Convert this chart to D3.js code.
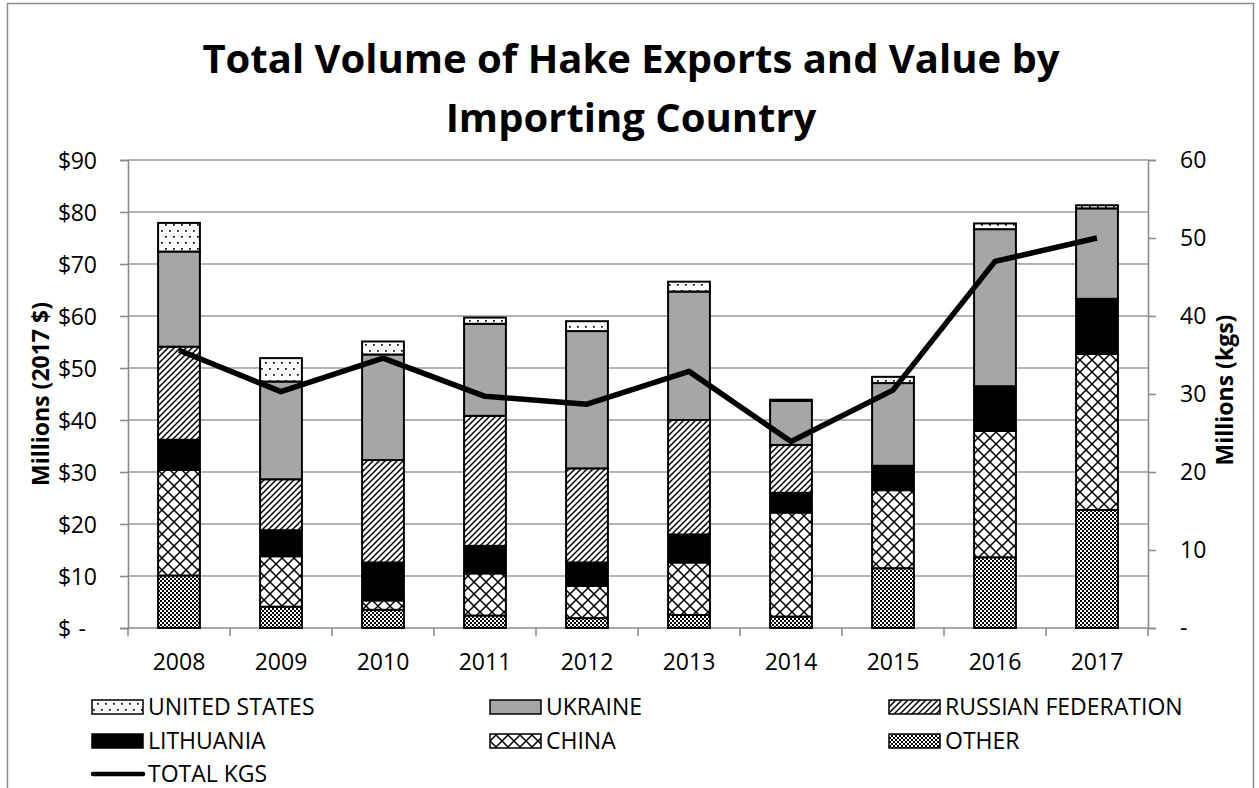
<!DOCTYPE html>
<html>
<head>
<meta charset="utf-8">
<script src="https://cdn.jsdelivr.net/npm/d3@7"></script>
<style>
  body { margin: 0; background: #fff; }
  text { font-family: "Open Sans", sans-serif; fill: #000; }
</style>
</head>
<body>
<div id="chart"></div>
<script>
// data (millions of 2017 $ / millions of kgs)
var years = [2008, 2009, 2010, 2011, 2012, 2013, 2014, 2015, 2016, 2017];
var other = [10.1, 4.1, 3.5, 2.4, 1.9, 2.5, 2.2, 11.5, 13.6, 22.7];
var china = [20.3, 9.7, 1.8, 8.1, 6.2, 10.1, 20.0, 15.0, 24.3, 30.0];
var lithuania = [5.8, 5.0, 7.3, 5.3, 4.5, 5.4, 3.8, 4.7, 8.6, 10.6];
var russia = [17.9, 9.8, 19.7, 25.0, 18.1, 22.0, 9.2, 0, 0, 0];
var ukraine = [18.3, 18.8, 20.3, 17.7, 26.4, 24.7, 8.5, 15.9, 30.2, 17.4];
var unitedStates = [5.5, 4.5, 2.5, 1.2, 1.9, 1.9, 0.2, 1.2, 1.1, 0.6];
var totalKgs = [35.6, 30.3, 34.6, 29.7, 28.7, 32.9, 23.9, 30.5, 47.0, 50.0];

var leftTicks = [0, 10, 20, 30, 40, 50, 60, 70, 80, 90];
var rightTicks = [0, 10, 20, 30, 40, 50, 60];

// stack order, bottom to top
var keys = ["other", "china", "lithuania", "russia", "ukraine", "us"];
var labels = {
    us: "UNITED STATES", ukraine: "UKRAINE", russia: "RUSSIAN FEDERATION",
    lithuania: "LITHUANIA", china: "CHINA", other: "OTHER"
};
var fills = {
    us: "url(#dots)", ukraine: "#a6a6a6", russia: "url(#diag)",
    lithuania: "#000", china: "url(#cross)", other: "url(#checker)"
};

var rows = years.map(function(y, i) {
    return {
        year: y, other: other[i], china: china[i], lithuania: lithuania[i],
        russia: russia[i], ukraine: ukraine[i], us: unitedStates[i]
    };
});

var svgWidth = 1259, svgHeight = 788;
// plot area edges (window.top is reserved, so prefixed names)
var plotLeft = 128, plotRight = 1148, plotTop = 160, plotBottom = 628;

var svg = d3.select("#chart").append("svg")
    .attr("width", svgWidth)
    .attr("height", svgHeight);

// fill patterns
var defs = svg.append("defs");

var dots = defs.append("pattern").attr("id", "dots")
    .attr("patternUnits", "userSpaceOnUse").attr("width", 8).attr("height", 12);
dots.append("rect").attr("width", 8).attr("height", 12).attr("fill", "#fff");
dots.append("rect").attr("x", 1).attr("y", 2).attr("width", 1.7).attr("height", 1.7).attr("fill", "#000");
dots.append("rect").attr("x", 5).attr("y", 8).attr("width", 1.7).attr("height", 1.7).attr("fill", "#000");

var diag = defs.append("pattern").attr("id", "diag")
    .attr("patternUnits", "userSpaceOnUse").attr("width", 6).attr("height", 6);
diag.append("rect").attr("width", 6).attr("height", 6).attr("fill", "#fff");
diag.append("path").attr("d", "M0,6 L6,0 M-1,1 L1,-1 M5,7 L7,5")
    .attr("stroke", "#000").attr("stroke-width", 1.5);

var cross = defs.append("pattern").attr("id", "cross")
    .attr("patternUnits", "userSpaceOnUse").attr("width", 12).attr("height", 12);
cross.append("rect").attr("width", 12).attr("height", 12).attr("fill", "#fff");
cross.append("path").attr("d", "M0,0 L12,12 M12,0 L0,12")
    .attr("stroke", "#000").attr("stroke-width", 1.5);

var checker = defs.append("pattern").attr("id", "checker")
    .attr("patternUnits", "userSpaceOnUse").attr("width", 4).attr("height", 4);
checker.append("rect").attr("width", 4).attr("height", 4).attr("fill", "#fff");
checker.append("rect").attr("width", 2).attr("height", 2).attr("fill", "#000");
checker.append("rect").attr("x", 2).attr("y", 2).attr("width", 2).attr("height", 2).attr("fill", "#000");

// outer chart border
svg.append("rect")
    .attr("x", 7.5).attr("y", 3.5)
    .attr("width", 1246).attr("height", 900)
    .attr("fill", "none").attr("stroke", "#8c8c8c").attr("stroke-width", 1.5);

// title
var title = svg.append("text")
    .attr("text-anchor", "middle")
    .style("font-size", "40px")
    .style("font-weight", "bold");
title.append("tspan").attr("x", 631).attr("y", 73).text("Total Volume of Hake Exports and Value by");
title.append("tspan").attr("x", 631).attr("y", 132).text("Importing Country");

// scales
var x = d3.scaleBand().domain(years).range([plotLeft, plotRight]);
var barW = x.bandwidth() * 0.41;
var yL = d3.scaleLinear().domain([0, 90]).range([plotBottom, plotTop]);
var yR = d3.scaleLinear().domain([0, 60]).range([plotBottom, plotTop]);

// gridlines
svg.append("g").selectAll("line")
    .data(leftTicks.filter(d => d > 0))
    .enter().append("line")
    .attr("x1", plotLeft).attr("x2", plotRight)
    .attr("y1", d => yL(d)).attr("y2", d => yL(d))
    .attr("stroke", "#9a9a9a").attr("stroke-width", 1.6);

// left axis
var leftAxis = svg.append("g")
    .attr("transform", `translate(${plotLeft},0)`)
    .call(d3.axisLeft(yL).tickValues(leftTicks).tickSize(8).tickFormat(""));
leftAxis.select(".domain").attr("stroke", "#8c8c8c").attr("stroke-width", 1.6);
leftAxis.selectAll(".tick line").attr("stroke", "#8c8c8c").attr("stroke-width", 1.6);
leftAxis.selectAll(".tick").each(function(d) {
    var t = d3.select(this);
    t.append("text").attr("x", -70).attr("dy", "0.35em")
        .attr("text-anchor", "start").style("font-size", "23px").text("$");
    t.append("text").attr("x", d ? -31 : -42).attr("dy", "0.35em")
        .attr("text-anchor", "end").style("font-size", "23px").text(d ? d : "-");
});

// right axis
var rightAxis = svg.append("g")
    .attr("transform", `translate(${plotRight},0)`)
    .call(d3.axisRight(yR).tickValues(rightTicks).tickSize(8).tickPadding(24)
        .tickFormat(d => d ? d : "-"));
rightAxis.select(".domain").attr("stroke", "#8c8c8c").attr("stroke-width", 1.6);
rightAxis.selectAll(".tick line").attr("stroke", "#8c8c8c").attr("stroke-width", 1.6);
rightAxis.selectAll(".tick text")
    .attr("fill", "#000")
    .style("font-size", "23px")
    .style("font-family", "'Open Sans', sans-serif");

// bottom axis: category boundaries get the tick marks
var xAxisG = svg.append("g");
xAxisG.append("line")
    .attr("x1", plotLeft).attr("x2", plotRight).attr("y1", plotBottom).attr("y2", plotBottom)
    .attr("stroke", "#8c8c8c").attr("stroke-width", 1.6);
xAxisG.selectAll(".bound")
    .data(years.concat(["end"]))
    .enter().append("line")
    .attr("class", "bound")
    .attr("x1", (d, i) => plotLeft + i * x.step()).attr("x2", (d, i) => plotLeft + i * x.step())
    .attr("y1", plotBottom).attr("y2", plotBottom + 8)
    .attr("stroke", "#8c8c8c").attr("stroke-width", 1.6);
xAxisG.selectAll(".yr")
    .data(years)
    .enter().append("text")
    .attr("class", "yr")
    .attr("x", d => x(d) + x.bandwidth() / 2)
    .attr("y", 670)
    .attr("text-anchor", "middle")
    .style("font-size", "23px")
    .text(d => d);

// axis titles
svg.append("text")
    .attr("transform", "translate(49,394) rotate(-90)")
    .attr("text-anchor", "middle")
    .style("font-size", "23px").style("font-weight", "bold")
    .text("Millions (2017 $)");
svg.append("text")
    .attr("transform", "translate(1233,390) rotate(-90)")
    .attr("text-anchor", "middle")
    .style("font-size", "23px").style("font-weight", "bold")
    .text("Millions (kgs)");

// stacked bars
var series = d3.stack().keys(keys)(rows);
svg.append("g").selectAll("g")
    .data(series)
    .enter().append("g")
    .attr("fill", d => fills[d.key])
    .selectAll("rect")
    .data(d => d.filter(s => s[1] - s[0] > 0))
    .enter().append("rect")
    .attr("x", d => x(d.data.year) + (x.bandwidth() - barW) / 2)
    .attr("width", barW)
    .attr("y", d => yL(d[1]))
    .attr("height", d => yL(d[0]) - yL(d[1]))
    .attr("stroke", "#000")
    .attr("stroke-width", 2);

// total kgs line on the right axis
var line = d3.line()
    .x((d, i) => x(years[i]) + x.bandwidth() / 2)
    .y(d => yR(d));
svg.append("path")
    .datum(totalKgs)
    .attr("d", line)
    .attr("fill", "none")
    .attr("stroke", "#000")
    .attr("stroke-width", 5.5)
    .attr("stroke-linejoin", "round");

// legend
var legendItems = ["us", "ukraine", "russia", "lithuania", "china", "other", "total"];
var colX = [92, 490, 889];
var rowY = [707, 741, 774];
var legend = svg.append("g").selectAll("g")
    .data(legendItems)
    .enter().append("g")
    .attr("transform", (d, i) => `translate(${colX[i % 3]},${rowY[Math.floor(i / 3)]})`);
legend.filter(d => d !== "total").append("rect")
    .attr("x", 0).attr("y", -7)
    .attr("width", 51).attr("height", 14)
    .attr("fill", d => fills[d])
    .attr("stroke", "#000").attr("stroke-width", 1.5);
legend.filter(d => d === "total").append("line")
    .attr("x1", 1).attr("x2", 51).attr("y1", 0).attr("y2", 0)
    .attr("stroke", "#000").attr("stroke-width", 4.5)
    .attr("stroke-linecap", "round");
legend.append("text")
    .attr("x", 56)
    .attr("dy", "0.36em")
    .style("font-size", "23px")
    .text(d => d === "total" ? "TOTAL KGS" : labels[d]);
</script>
</body>
</html>
